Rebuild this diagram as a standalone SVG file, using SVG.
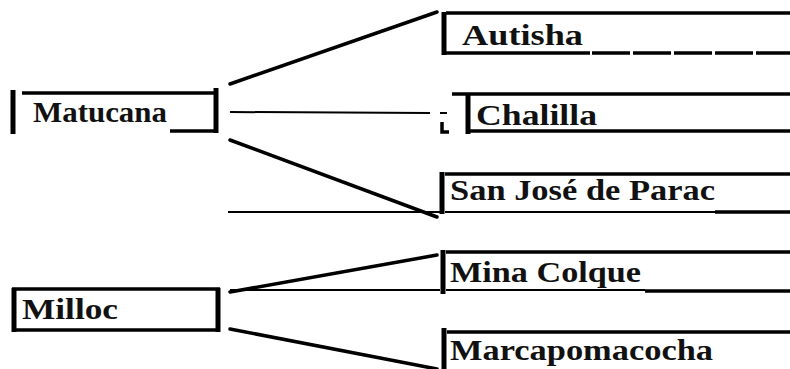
<svg xmlns="http://www.w3.org/2000/svg" width="790" height="369" viewBox="0 0 790 369">
<style>
.t{font-family:"Liberation Serif","Times New Roman",serif;font-size:30px;font-weight:bold;fill:#111}
.b{stroke:#000;fill:none;stroke-width:3.5}
.bar{stroke:#000;fill:none;stroke-width:5}
.thin{stroke:#000;fill:none;stroke-width:2}
.c{stroke:#000;fill:none;stroke-width:3.5;stroke-linecap:round}
.h{stroke:#000;fill:none;stroke-width:2}
</style>
<rect width="790" height="369" fill="#fff"/>
<g id="connectors">
<path class="c" d="M230 84 L437 12"/>
<path class="h" d="M230 112 L430 113 M440 113 L447 113"/>
<path class="c" d="M230 140 L437 217"/>
<path class="h" d="M228 212 L440 212"/>
<path class="c" d="M230 292 L437 255"/>
<path class="h" d="M230 290 L440 290"/>
<path class="c" d="M230 329 L437 369"/>
</g>
<g id="matucana">
<path class="bar" d="M13 90 V134"/>
<path class="b" d="M22 93 H218"/>
<path class="bar" d="M216 88 V133"/>
<path class="b" d="M170 131 H214"/>
<text class="t" x="33" y="122" textLength="134" lengthAdjust="spacingAndGlyphs">Matucana</text>
</g>
<g id="milloc">
<path class="bar" d="M14 288 V332"/>
<path class="b" d="M12 289 H220"/>
<path class="bar" d="M218 288 V332"/>
<path class="b" d="M12 330 H220"/>
<text class="t" x="22" y="319" textLength="96" lengthAdjust="spacingAndGlyphs">Milloc</text>
</g>
<g id="autisha">
<path class="bar" d="M444 12 V55"/>
<path class="b" d="M446 13 H790"/>
<path class="b" d="M446 53 H590"/>
<path class="b" d="M592 53 H790" stroke-dasharray="38 3"/>
<text class="t" x="462" y="45" textLength="121" lengthAdjust="spacingAndGlyphs">Autisha</text>
</g>
<g id="chalilla">
<path class="b" d="M452 94 H790"/>
<path class="bar" d="M468 93 V134"/>
<path class="b" d="M442 122 V132 H449"/>
<path class="b" d="M470 131 H790"/>
<text class="t" x="476" y="125" textLength="121" lengthAdjust="spacingAndGlyphs">Chalilla</text>
</g>
<g id="sanjose">
<path class="bar" d="M442 172 V214"/>
<path class="b" d="M445 174 H790"/>
<path class="thin" d="M445 212 H715" stroke="#666"/>
<path class="b" d="M715 212 H790"/>
<text class="t" x="450" y="200" textLength="265" lengthAdjust="spacingAndGlyphs">San José de Parac</text>
</g>
<g id="minacolque">
<path class="bar" d="M443 250 V294"/>
<path class="b" d="M446 252 H790"/>
<path class="thin" d="M446 290 H645"/>
<path class="b" d="M645 291 H790"/>
<text class="t" x="450" y="282" textLength="191" lengthAdjust="spacingAndGlyphs">Mina Colque</text>
</g>
<g id="marcapomacocha">
<path class="bar" d="M444 328 V369"/>
<path class="b" d="M447 332 H790"/>
<text class="t" x="450" y="360" textLength="263" lengthAdjust="spacingAndGlyphs">Marcapomacocha</text>
</g>
</svg>
